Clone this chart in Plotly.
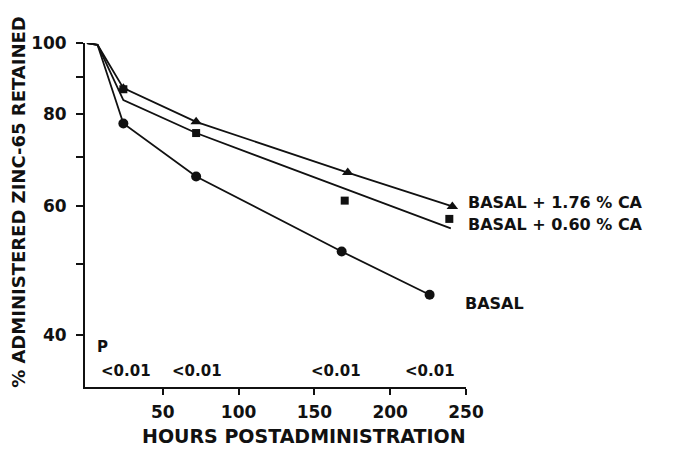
import plotly.graph_objects as go
import math

# ---- data ----
tri_hours = [0, 7, 24, 72, 172, 241]
tri_vals = [100, 99.4, 86.8, 78.1, 66.6, 59.9]

sq_line_hours = [0, 7, 24, 72, 240]
sq_line_vals = [100, 99.4, 83.6, 75.4, 55.9]
sq_hours = [24, 72, 170, 239]
sq_vals = [86.5, 75.4, 61.0, 57.6]

circ_hours = [0, 7, 24, 72, 168, 226]
circ_vals = [100, 99.4, 77.7, 65.8, 52.0, 45.4]

p_hours = [25.7, 72.6, 164.4, 226.4]
p_labels = ["<0.01", "<0.01", "<0.01", "<0.01"]

y_tickvals = [40, 50, 60, 70, 80, 90, 100]
y_ticktext = ["40", "", "60", "", "80", "", "100"]
x_tickvals = [50, 100, 150, 200, 250]

series_labels = ["BASAL + 1.76 % CA", "BASAL + 0.60 % CA", "BASAL"]

FONT = "DejaVu Sans"
BLACK = "#111111"

fig = go.Figure()

# triangle series (line through markers)
fig.add_trace(go.Scatter(x=tri_hours, y=tri_vals, mode="lines",
                         line=dict(color=BLACK, width=1.8), showlegend=False))
fig.add_trace(go.Scatter(x=tri_hours[2:], y=tri_vals[2:], mode="markers",
                         marker=dict(symbol="triangle-up", size=10, color=BLACK),
                         showlegend=False))
# square series (fitted line + markers)
fig.add_trace(go.Scatter(x=sq_line_hours, y=sq_line_vals, mode="lines",
                         line=dict(color=BLACK, width=1.8), showlegend=False))
fig.add_trace(go.Scatter(x=sq_hours, y=sq_vals, mode="markers",
                         marker=dict(symbol="square", size=8, color=BLACK),
                         showlegend=False))
# circle series
fig.add_trace(go.Scatter(x=circ_hours, y=circ_vals, mode="lines",
                         line=dict(color=BLACK, width=1.8), showlegend=False))
fig.add_trace(go.Scatter(x=circ_hours[2:], y=circ_vals[2:], mode="markers",
                         marker=dict(symbol="circle", size=10, color=BLACK),
                         showlegend=False))

ann = []
# P values
ann.append(dict(text="P", x=5, y=0.116, xref="x", yref="paper",
                xanchor="left", yanchor="middle", showarrow=False,
                font=dict(family=FONT, size=15, color=BLACK, weight="bold")))
for h, t in zip(p_hours, p_labels):
    ann.append(dict(text=t, x=h, y=0.0465, xref="x", yref="paper",
                    xanchor="center", yanchor="middle", showarrow=False,
                    font=dict(family=FONT, size=15, color=BLACK, weight="bold")))
# series labels
label_y = [0.535, 0.471, 0.244]
label_x = [1.0, 1.0, 0.992]
for t, yy, xx in zip(series_labels, label_y, label_x):
    ann.append(dict(text=t, x=xx, y=yy, xref="paper", yref="paper",
                    xanchor="left", yanchor="middle", showarrow=False,
                    font=dict(family=FONT, size=16, color=BLACK, weight="bold")))
# axis titles
ann.append(dict(text="% ADMINISTERED ZINC-65 RETAINED", x=-0.1734, y=0.538,
                xref="paper", yref="paper", textangle=-90,
                xanchor="center", yanchor="middle", showarrow=False,
                font=dict(family=FONT, size=18, color=BLACK, weight="bold")))
ann.append(dict(text="HOURS POSTADMINISTRATION", x=0.574, y=-0.1424,
                xref="paper", yref="paper",
                xanchor="center", yanchor="middle", showarrow=False,
                font=dict(family=FONT, size=19, color=BLACK, weight="bold")))

fig.update_layout(
    width=674, height=450,
    margin=dict(l=85, r=208, t=43, b=63),
    paper_bgcolor="white", plot_bgcolor="white",
    annotations=ann,
    showlegend=False,
)
fig.update_xaxes(range=[-1.3, 250], tickvals=x_tickvals,
                 showline=True, linecolor=BLACK, linewidth=1.8,
                 ticks="outside", ticklen=6, tickwidth=1.5, tickcolor=BLACK,
                 showgrid=False, zeroline=False, ticklabelstandoff=3,
                 tickfont=dict(family=FONT, size=17, color=BLACK, weight="bold"))
fig.update_yaxes(type="log", range=[math.log10(34.0), 2],
                 tickvals=y_tickvals, ticktext=y_ticktext,
                 showline=True, linecolor=BLACK, linewidth=1.8,
                 ticks="outside", ticklen=7, tickwidth=1.5, tickcolor=BLACK,
                 showgrid=False, zeroline=False, ticklabelstandoff=6,
                 tickfont=dict(family=FONT, size=17, color=BLACK, weight="bold"))

fig.write_html("out.html")
